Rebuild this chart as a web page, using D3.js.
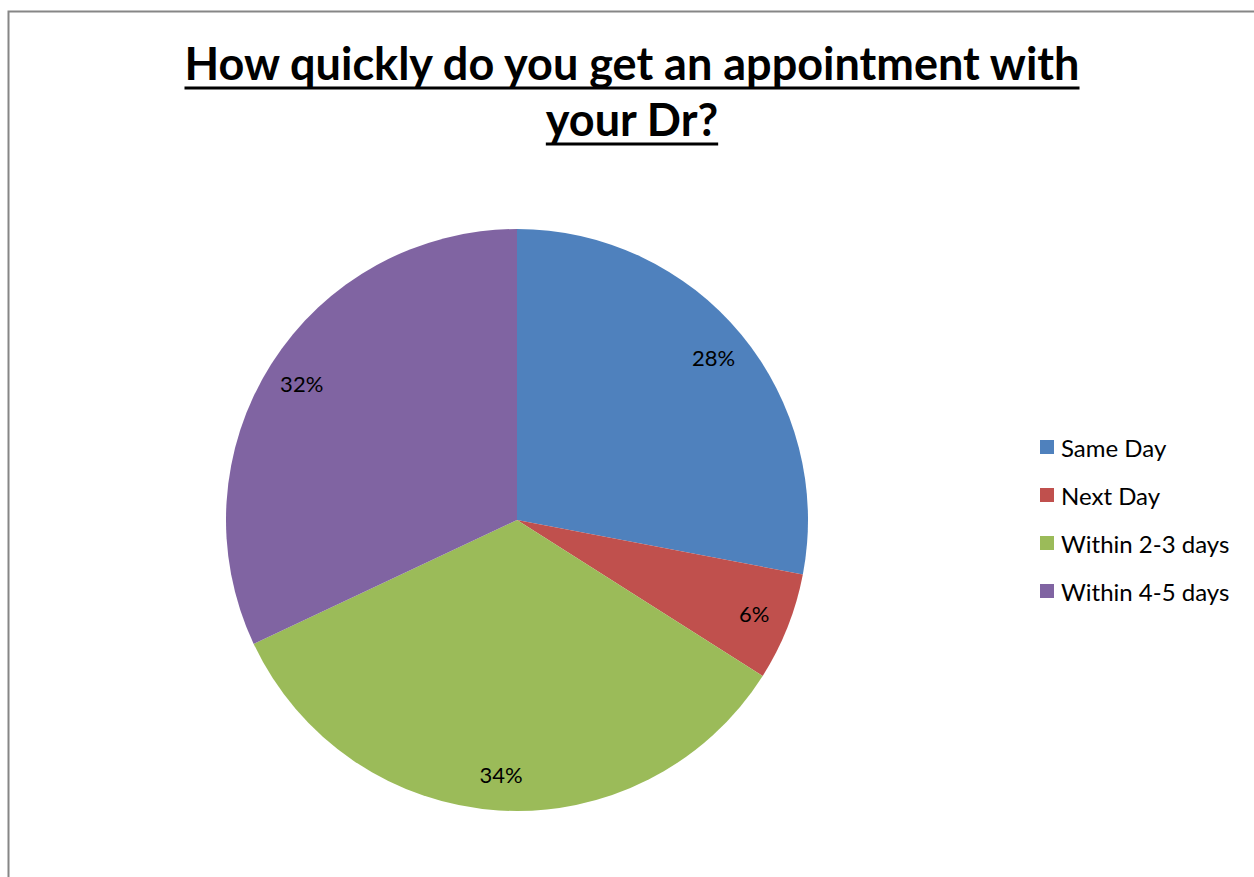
<!DOCTYPE html>
<html>
<head>
<meta charset="utf-8">
<script src="https://cdn.jsdelivr.net/npm/d3@7"></script>
<style>
  html, body { margin: 0; padding: 0; background: #fff; }
  svg { display: block; }
</style>
</head>
<body>
<svg id="chart" width="1254" height="877"></svg>
<script>
// Survey responses: how quickly patients get an appointment
const categories = ["Same Day", "Next Day", "Within 2-3 days", "Within 4-5 days"];
const percentages = [28, 6, 34, 32];
const colors = ["#4F81BD", "#C0504D", "#9BBB59", "#8064A2"];
const titleLines = ["How quickly do you get an appointment with", "your Dr?"];

const svg = d3.select("#chart");
const font = "Lato, 'Open Sans', sans-serif";

// Chart area frame
svg.append("rect")
  .attr("x", 8.5).attr("y", 11.5)
  .attr("width", 1260).attr("height", 900)
  .attr("fill", "#fff")
  .attr("stroke", "#868686").attr("stroke-width", 2);

// Title (bold, underlined, two lines)
const titleG = svg.append("g");
const titleBaselines = [80, 136];
titleLines.forEach((line, i) => {
  const t = titleG.append("text")
    .attr("x", 632).attr("y", titleBaselines[i])
    .attr("text-anchor", "middle")
    .attr("font-family", font)
    .attr("font-weight", 700)
    .attr("font-size", 45)
    .attr("fill", "#000")
    .text(line);
  const bb = t.node().getBBox();
  titleG.append("line")
    .attr("x1", bb.x).attr("x2", bb.x + bb.width)
    .attr("y1", titleBaselines[i] + 8).attr("y2", titleBaselines[i] + 8)
    .attr("stroke", "#000").attr("stroke-width", 3);
});

// Pie
const cx = 517, cy = 520, radius = 291;
const pie = d3.pie().sort(null).value(d => d.value);
const data = pie(categories.map((c, i) => ({ name: c, value: percentages[i], color: colors[i] })));
const arc = d3.arc().innerRadius(0).outerRadius(radius);
const labelArc = d3.arc().innerRadius(255).outerRadius(255);

const g = svg.append("g").attr("transform", `translate(${cx},${cy})`);
g.selectAll("path.slice")
  .data(data)
  .join("path")
  .attr("class", "slice")
  .attr("d", arc)
  .attr("fill", d => d.data.color);

g.selectAll("text.pct")
  .data(data)
  .join("text")
  .attr("class", "pct")
  .attr("transform", d => `translate(${labelArc.centroid(d)})`)
  .attr("text-anchor", "middle")
  .attr("dominant-baseline", "central")
  .attr("font-family", font)
  .attr("font-size", 22)
  .attr("fill", "#000")
  .text(d => d.data.value + "%");

// Legend
const legend = svg.append("g").attr("transform", "translate(1040,447)");
const rows = legend.selectAll("g.row")
  .data(categories)
  .join("g")
  .attr("class", "row")
  .attr("transform", (d, i) => `translate(0,${i * 48})`);
rows.append("rect")
  .attr("x", 0).attr("y", -7)
  .attr("width", 14).attr("height", 14)
  .attr("fill", (d, i) => colors[i]);
rows.append("text")
  .attr("x", 21).attr("y", 0)
  .attr("dominant-baseline", "central")
  .attr("font-family", font)
  .attr("font-size", 24)
  .attr("fill", "#000")
  .text(d => d);
</script>
</body>
</html>
